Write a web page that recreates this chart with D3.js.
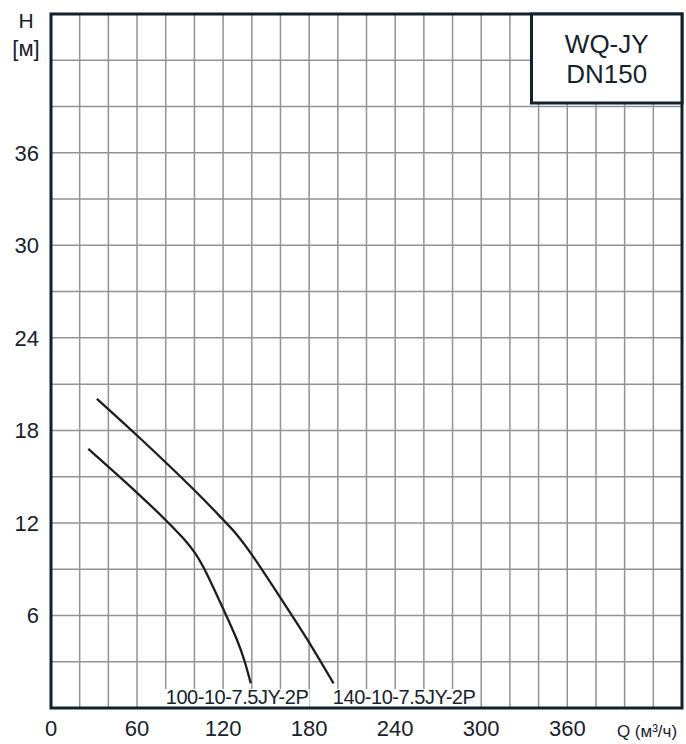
<!DOCTYPE html>
<html>
<head>
<meta charset="utf-8">
<script src="https://cdn.jsdelivr.net/npm/d3@7"></script>
<style>
  body { margin: 0; background: #fff; }
  svg text { font-family: "Liberation Sans", Arial, sans-serif; fill: #17232c; }
</style>
</head>
<body>
<div id="chart"></div>
<script>
// chart data
var xTicks = [0, 60, 120, 180, 240, 300, 360];
var yTicks = [6, 12, 18, 24, 30, 36];
var xGrid = d3.range(20, 440, 20);
var yGrid = d3.range(3, 45, 3);

// 100-10-7.5JY-2P
var curveA = [
  [26, 16.8], [61, 13.9], [80, 12.2], [93, 10.95], [100.4, 10.1],
  [107.4, 9.0], [120.5, 6.35], [130.5, 4.3], [135.3, 3.0], [139.3, 1.6]
];
// 140-10-7.5JY-2P
var curveB = [
  [32, 20.05], [60, 17.7], [104, 13.8], [121, 12.1], [128.5, 11.4],
  [140, 10.0], [161, 7.0], [168, 6.0], [180.6, 4.2], [197, 1.6]
];
var curveNames = ["100-10-7.5JY-2P", "140-10-7.5JY-2P"];

var svgWidth = 686;
var svgHeight = 744;

var margin = { top: 14, right: 4, bottom: 36, left: 51 };
var width = 682 - margin.left;
var height = 708 - margin.top;

var svg = d3.select("#chart")
  .append("svg")
  .attr("width", svgWidth)
  .attr("height", svgHeight);

var chartGroup = svg.append("g")
  .attr("transform", `translate(${margin.left}, ${margin.top})`);

var xScale = d3.scaleLinear().domain([0, 440]).range([0, width]);
var yScale = d3.scaleLinear().domain([0, 45]).range([height, 0]);

// grid
chartGroup.selectAll(".vgrid")
  .data(xGrid)
  .enter()
  .append("line")
  .attr("x1", d => xScale(d)).attr("x2", d => xScale(d))
  .attr("y1", 0).attr("y2", height)
  .attr("stroke", "#939393")
  .attr("stroke-width", 1.5);

chartGroup.selectAll(".hgrid")
  .data(yGrid)
  .enter()
  .append("line")
  .attr("y1", d => yScale(d)).attr("y2", d => yScale(d))
  .attr("x1", 0).attr("x2", width)
  .attr("stroke", "#939393")
  .attr("stroke-width", 1.5);

// curves (smoothed through the read points)
var line = d3.line()
  .x(d => xScale(d[0]))
  .y(d => yScale(d[1]))
  .curve(d3.curveBasis);

[curveA, curveB].forEach(function (c) {
  chartGroup.append("path")
    .datum(c)
    .attr("d", line)
    .attr("fill", "none")
    .attr("stroke", "#1e1e1e")
    .attr("stroke-width", 2.3);
});

// curve labels with white backing
var labelPos = [[80, 2], [196.5, 2]];
curveNames.forEach(function (name, i) {
  var g = chartGroup.append("g");
  var t = g.append("text")
    .attr("x", xScale(labelPos[i][0]))
    .attr("y", height - 4)
    .attr("font-size", 20)
    .attr("letter-spacing", -0.45)
    .text(name);
  var bb = t.node().getBBox();
  g.insert("rect", "text")
    .attr("x", bb.x - 1)
    .attr("y", bb.y + 3)
    .attr("width", bb.width + 2)
    .attr("height", height - bb.y - 4)
    .attr("fill", "#fff");
});

// frame
chartGroup.append("rect")
  .attr("x", 0).attr("y", 0)
  .attr("width", width).attr("height", height)
  .attr("fill", "none")
  .attr("stroke", "#12222c")
  .attr("stroke-width", 3);

// axis tick labels
chartGroup.selectAll(".xlab")
  .data(xTicks)
  .enter()
  .append("text")
  .attr("x", d => xScale(d))
  .attr("y", height + 28)
  .attr("text-anchor", "middle")
  .attr("font-size", 22)
  .text(d => d);

chartGroup.selectAll(".ylab")
  .data(yTicks)
  .enter()
  .append("text")
  .attr("x", -12)
  .attr("y", d => yScale(d) + 8)
  .attr("text-anchor", "end")
  .attr("font-size", 22)
  .text(d => d);

// axis titles
svg.append("text")
  .attr("x", 26).attr("y", 28)
  .attr("text-anchor", "middle")
  .attr("font-size", 21)
  .text("H");
svg.append("text")
  .attr("x", 26).attr("y", 56)
  .attr("text-anchor", "middle")
  .attr("font-size", 22)
  .text("[м]");
svg.append("text")
  .attr("x", 647).attr("y", 737)
  .attr("text-anchor", "middle")
  .attr("font-size", 17)
  .text("Q (м³/ч)");

// model box
var boxX = 531.5, boxY = margin.top, boxW = 682 - 531.5, boxH = 103 - margin.top;
svg.append("rect")
  .attr("x", boxX).attr("y", boxY)
  .attr("width", boxW).attr("height", boxH)
  .attr("fill", "#fff")
  .attr("stroke", "#12222c")
  .attr("stroke-width", 3);
svg.append("text")
  .attr("x", boxX + boxW / 2).attr("y", 53)
  .attr("text-anchor", "middle")
  .attr("font-size", 26)
  .text("WQ-JY");
svg.append("text")
  .attr("x", boxX + boxW / 2).attr("y", 83)
  .attr("text-anchor", "middle")
  .attr("font-size", 26)
  .text("DN150");
</script>
</body>
</html>
